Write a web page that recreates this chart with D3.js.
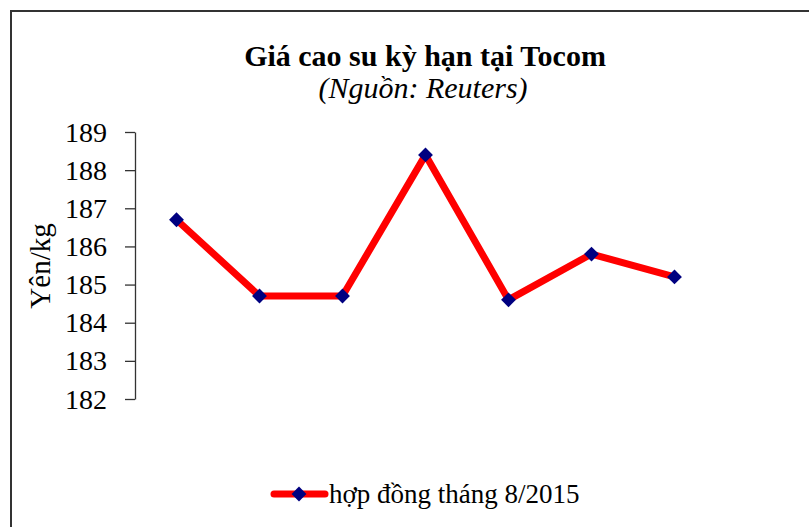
<!DOCTYPE html>
<html><head><meta charset="utf-8">
<script src="https://cdn.jsdelivr.net/npm/d3@7"></script>
<style>body{margin:0;background:#fff}svg{display:block}</style>
</head><body>
<svg id="c" width="809" height="527"></svg>
<script>
const categories = ["1","2","3","4","5","6","7"];
const values = [186.7, 184.7, 184.7, 188.4, 184.6, 185.8, 185.2];
const yTicks = [182,183,184,185,186,187,188,189];
const title = "Giá cao su kỳ hạn tại Tocom";
const subtitle = "(Nguồn: Reuters)";
const yLabel = "Yên/kg";
const seriesName = "hợp đồng tháng 8/2015";

const FONT = "'Liberation Serif','Times New Roman',serif";
const BASE = 20;
const svg = d3.select("#c");
svg.append("path").attr("d","M11,527 V11 H809").attr("fill","none").attr("stroke","#333").attr("stroke-width",2);

const x = d3.scaleBand().domain(categories).range([135,716]);
const y = d3.scaleLinear().domain([182,189]).range([399,132]);

// text helper: render at small base size, scale up
function label(x0, y0, str, size, opts={}) {
  const t = svg.append("text")
    .attr("transform", `translate(${x0},${y0}) rotate(${opts.rotate||0}) scale(${size/BASE})`)
    .attr("text-anchor", opts.anchor || "start")
    .style("font-family", FONT).style("font-size", BASE+"px")
    .attr("fill","#000").text(str);
  if (opts.bold) t.attr("font-weight","bold");
  if (opts.italic) t.attr("font-style","italic");
  if (opts.dy) t.attr("dy", opts.dy);
  return t;
}

const yAxis = svg.append("g").attr("transform","translate(135,0)")
  .call(d3.axisLeft(y).tickValues(yTicks).tickFormat(d3.format("d")).tickSize(10).tickPadding(18).tickSizeOuter(0));
yAxis.select(".domain").attr("stroke","#333").attr("stroke-width",1.3);
yAxis.selectAll(".tick line").attr("stroke","#333").attr("stroke-width",1.3);
yAxis.selectAll(".tick text").remove();
yTicks.forEach(t => label(107, y(t), d3.format("d")(t), 28, {anchor:"end", dy:"0.34em"}));

const cx = d => x(d) + x.bandwidth()/2;
const line = d3.line().x((d,i)=>cx(categories[i])).y(d=>y(d));
svg.append("path").datum(values).attr("d",line).attr("fill","none").attr("stroke","#ff0000").attr("stroke-width",7).attr("stroke-linejoin","round");
svg.selectAll(".pt").data(values).join("path").attr("class","pt")
  .attr("d", d3.symbol().type(d3.symbolSquare).size(110))
  .attr("transform",(d,i)=>`translate(${cx(categories[i])},${y(d)}) rotate(45)`)
  .attr("fill","#000080");

label(425, 66, title, 30, {anchor:"middle", bold:true});
label(423, 98, subtitle, 30, {anchor:"middle", italic:true});
label(50, 266, yLabel, 29, {anchor:"middle", rotate:-90});

const lg = svg.append("g");
lg.append("line").attr("x1",274).attr("x2",325).attr("y1",494).attr("y2",494).attr("stroke","#ff0000").attr("stroke-width",7).attr("stroke-linecap","round");
lg.append("path").attr("d", d3.symbol().type(d3.symbolSquare).size(110)).attr("transform","translate(299,494) rotate(45)").attr("fill","#000080");
label(329, 503, seriesName, 27);
</script>
</body></html>
